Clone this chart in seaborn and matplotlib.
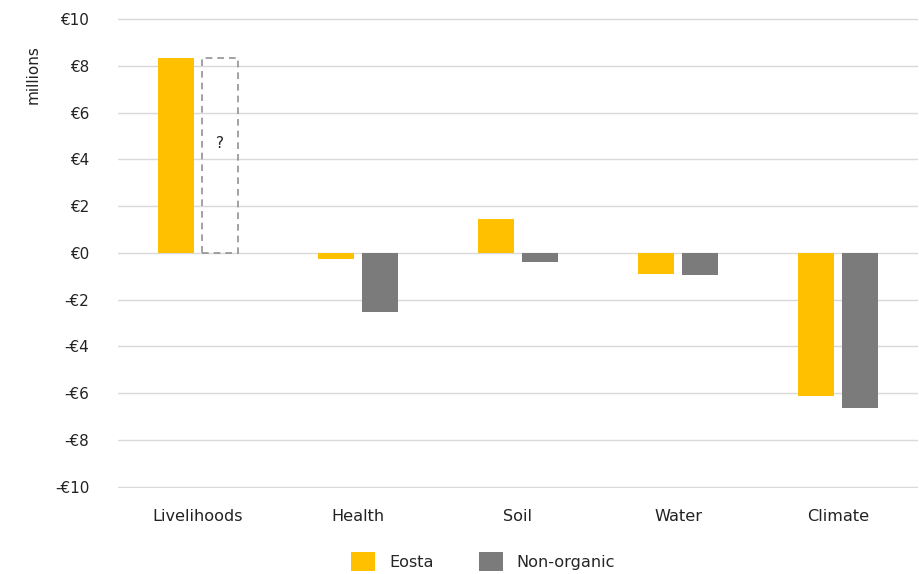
import numpy as np
import pandas as pd
import matplotlib
matplotlib.use("Agg")
import matplotlib.pyplot as plt
import seaborn as sns
from matplotlib.patches import Patch

categories = ["Livelihoods", "Health", "Soil", "Water", "Climate"]
eosta = [8.35, -0.27, 1.45, -0.9, -6.12]
non_organic = [np.nan, -2.55, -0.38, -0.94, -6.64]
unknown_non_organic = [8.35, np.nan, np.nan, np.nan, np.nan]
series = ["Eosta", "Non-organic"]
yticks = [-10, -8, -6, -4, -2, 0, 2, 4, 6, 8, 10]

sns.set_theme(style="white")
plt.rcParams["font.family"] = ["DejaVu Sans"]

df = pd.DataFrame({
    "category": categories * 2,
    "series": [series[0]] * len(categories) + [series[1]] * len(categories),
    "value": eosta + non_organic,
})
df_unknown = pd.DataFrame({
    "category": categories * 2,
    "series": [series[0]] * len(categories) + [series[1]] * len(categories),
    "value": [np.nan] * len(categories) + unknown_non_organic,
})

fig = plt.figure(figsize=(9.2, 5.74), dpi=100)
ax = fig.add_axes([0.128, 0.150, 0.870, 0.819])

palette = {"Eosta": "#FFC000", "Non-organic": "#7B7B7B"}
sns.barplot(data=df, x="category", y="value", hue="series", order=categories,
            hue_order=series, palette=palette, width=0.55, gap=0.18,
            errorbar=None, legend=False, ax=ax, saturation=1, linewidth=0)

n_before = len(ax.patches)
sns.barplot(data=df_unknown, x="category", y="value", hue="series", order=categories,
            hue_order=series, width=0.55, gap=0.18, errorbar=None, legend=False,
            ax=ax, fill=False, palette={"Eosta": "#929292", "Non-organic": "#929292"})
for p in ax.patches[n_before:]:
    p.set_linestyle((0, (4, 3)))
    p.set_linewidth(1.2)
    p.set_edgecolor("#929292")
    h = p.get_height()
    if np.isfinite(h) and h != 0:
        ax.text(p.get_x() + p.get_width() / 2, h * 0.56, "?", ha="center",
                va="center", fontsize=11, color="#222222")

ax.set_ylim(-10.05, 10.05)
ax.set_yticks(yticks)
ax.set_yticklabels([("-€" + str(abs(v))) if v < 0 else ("€" + str(v)) for v in yticks])
ax.yaxis.grid(True, color="#D9D9D9", linewidth=1)
ax.set_axisbelow(True)
for s in ax.spines.values():
    s.set_visible(False)
ax.tick_params(axis="y", length=0, pad=20.5, labelsize=11, labelcolor="#222222")
ax.tick_params(axis="x", length=0, pad=15, labelsize=11.6, labelcolor="#222222")
ax.set_xlabel("")
ax.set_ylabel("")

fig.text(0.036, 1 - 75 / 574, "millions", rotation=90, ha="center", va="center",
         fontsize=11, color="#222222")

handles = [Patch(facecolor=palette[s], edgecolor="none", label=s) for s in series]
fig.legend(handles=handles, loc="center", bbox_to_anchor=(0.525, 0.022), ncol=2,
           frameon=False, fontsize=11.6, handlelength=1.5, handleheight=1.5,
           columnspacing=2.8, handletextpad=0.85)

fig.savefig("out.png", dpi=100)
